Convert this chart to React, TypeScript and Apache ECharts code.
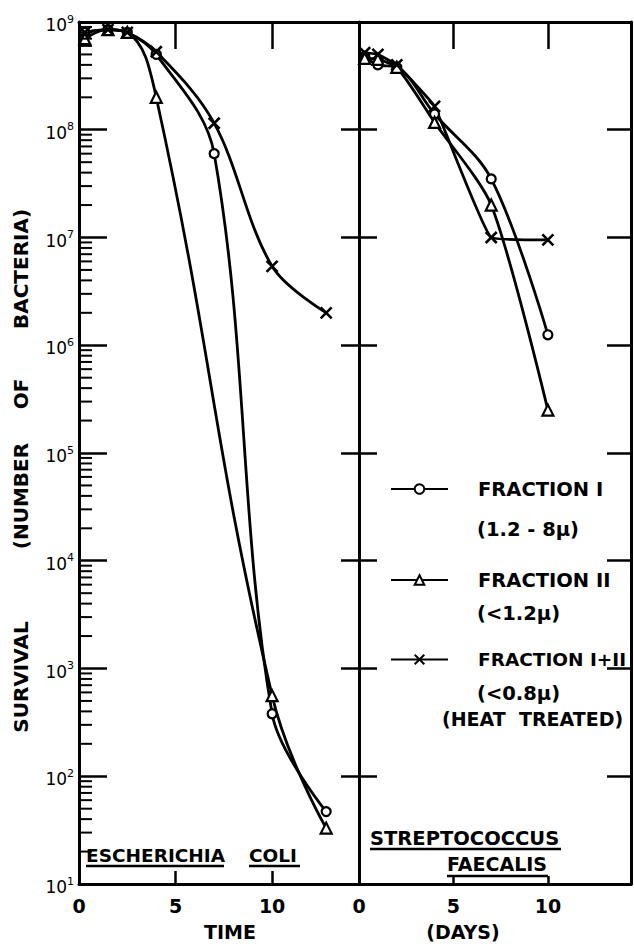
import React, { useEffect, useRef } from 'react';
import * as echarts from 'echarts';

// ---------- data ----------
const xTicks = [0, 5, 10];
const decadeExponents = [1, 2, 3, 4, 5, 6, 7, 8, 9];
const minorMultipliers = [2, 3, 4, 5, 6, 7, 8, 9];

// Escherichia coli (time, survival)
const ecoliFraction1: [number, number][] = [
  [0.3, 8e8], [1.5, 8.5e8], [2.5, 8e8], [4, 5e8], [7, 6e7], [10, 3.8e2], [12.8, 47],
];
const ecoliFraction2: [number, number][] = [
  [0.3, 7e8], [1.5, 8.5e8], [2.5, 8e8], [4, 2e8], [10, 5.6e2], [12.8, 33],
];
const ecoliFraction12: [number, number][] = [
  [0.3, 8e8], [1.5, 8.5e8], [2.5, 8e8], [4, 5.3e8], [7, 1.15e8], [10, 5.4e6], [12.8, 2e6],
];

// Streptococcus faecalis (days, survival)
const strepFraction1: [number, number][] = [
  [0.3, 4.8e8], [1, 4e8], [2, 3.8e8], [4, 1.4e8], [7, 3.5e7], [10, 1.25e6],
];
const strepFraction2: [number, number][] = [
  [0.3, 4.6e8], [1, 4.5e8], [2, 3.8e8], [4, 1.17e8], [7, 2e7], [10, 2.5e5],
];
const strepFraction12: [number, number][] = [
  [0.3, 5.2e8], [1, 5e8], [2, 4e8], [4, 1.65e8], [7, 1e7], [10, 9.5e6],
];

const seriesNames = ['FRACTION I', 'FRACTION II', 'FRACTION I+II'];
const legendSubLines = ['(1.2 - 8\u03bc)', '(<1.2\u03bc)', '(<0.8\u03bc)', '(HEAT  TREATED)'];
const yTitleWords = ['SURVIVAL', '(NUMBER', 'OF', 'BACTERIA)'];

const minorTickValues: number[] = [];
decadeExponents.slice(0, 8).forEach((e) => {
  minorMultipliers.forEach((m) => minorTickValues.push(m * Math.pow(10, e)));
});

const FONT = 'DejaVu Sans';
const X_SYMBOL = 'path://M0 0L10 10M10 0L0 10';

export default function App() {
  const ref = useRef<HTMLDivElement>(null);

  useEffect(() => {
    if (!ref.current) return;
    const chart = echarts.init(ref.current, null, { renderer: 'svg' });

    const lineCommon = {
      type: 'line' as const,
      smooth: 0.35,
      lineStyle: { color: '#000', width: 2.8 },
      itemStyle: { color: '#fff', borderColor: '#000', borderWidth: 2.2 },
      z: 3,
    };
    const styles: any[] = [
      { symbol: 'circle', symbolSize: 9 },
      { symbol: 'triangle', symbolSize: 11 },
      { symbol: X_SYMBOL, symbolSize: 11, itemStyle: { color: '#fff', borderColor: '#000', borderWidth: 2.6 } },
    ];

    const mkSeries = (idx: number, data: [number, number][], xi: number, yi: number, smooth = 0.35) => ({
      ...lineCommon,
      ...styles[idx],
      smooth,
      itemStyle: { ...lineCommon.itemStyle, ...(styles[idx].itemStyle || {}) },
      name: seriesNames[idx],
      xAxisIndex: xi,
      yAxisIndex: yi,
      data,
    });

    const axisLine = { show: true, lineStyle: { color: '#000', width: 3 } };
    const tickStyle = { color: '#000', width: 2.5 };
    const xLabel = {
      show: true,
      color: '#000',
      fontFamily: FONT,
      fontWeight: 'bold',
      fontSize: 19,
      margin: 12,
      formatter: (v: number) => (xTicks.includes(v) ? String(v) : ''),
    };
    const xBase = (grid: number, max: number) => ({
      type: 'value' as const,
      gridIndex: grid,
      min: 0,
      max,
      interval: 5,
      splitLine: { show: false },
      axisLine,
    });

    const yBase = (grid: number) => ({
      type: 'log' as const,
      logBase: 10,
      gridIndex: grid,
      min: 10,
      max: 1e9,
      splitLine: { show: false },
    });

    const legendItem = (name: string, top: number, fontSize: number) => ({
      data: [name],
      left: 390,
      top,
      padding: 0,
      itemWidth: 57,
      itemHeight: 12,
      selectedMode: false,
      textStyle: {
        fontFamily: FONT,
        fontWeight: 'bold',
        fontSize,
        color: '#000',
        padding: [10, 0, 0, 25],
      },
    });

    const txt = (text: string, x: number, y: number, extra: any = {}) => ({
      type: 'text',
      x,
      y,
      silent: true,
      style: {
        text,
        fontFamily: FONT,
        fontWeight: 'bold',
        fontSize: 20,
        fill: '#000',
        textAlign: 'left',
        textVerticalAlign: 'middle',
        ...extra,
      },
    });
    const hline = (x1: number, x2: number, y: number) => ({
      type: 'line',
      silent: true,
      shape: { x1, y1: y, x2, y2: y },
      style: { stroke: '#000', lineWidth: 2.5 },
    });

    const yTitleCenters = [677, 496, 394, 269];

    const option: any = {
      animation: false,
      backgroundColor: '#fff',
      textStyle: { fontFamily: FONT },
      grid: [
        { left: 79, top: 22, width: 280, height: 862 },
        { left: 359, top: 22, width: 272, height: 862 },
      ],
      xAxis: [
        {
          ...xBase(0, 14.5),
          position: 'bottom',
          axisTick: { show: true, inside: true, length: 13, lineStyle: tickStyle },
          axisLabel: xLabel,
        },
        {
          ...xBase(0, 14.5),
          position: 'top',
          axisTick: { show: true, inside: true, length: 27, lineStyle: tickStyle },
          axisLabel: { show: false },
        },
        {
          ...xBase(1, 14.4),
          position: 'bottom',
          axisTick: { show: true, inside: true, length: 8, lineStyle: tickStyle },
          axisLabel: xLabel,
        },
        {
          ...xBase(1, 14.4),
          position: 'top',
          axisTick: { show: true, inside: true, length: 27, lineStyle: tickStyle },
          axisLabel: { show: false },
        },
      ],
      yAxis: [
        {
          ...yBase(0),
          position: 'left',
          axisLine,
          axisTick: { show: true, inside: true, length: 28, lineStyle: tickStyle },
          axisLabel: {
            show: true,
            margin: 5,
            color: '#000',
            formatter: (v: number) => `{b|10}{s|${Math.round(Math.log10(v))}}`,
            rich: {
              b: { fontFamily: FONT, fontSize: 17, lineHeight: 17, padding: [6, 0, 0, 0], color: '#000' },
              s: { fontFamily: FONT, fontSize: 11, lineHeight: 11, verticalAlign: 'top', color: '#000' },
            },
          },
        },
        {
          ...yBase(1),
          position: 'left',
          axisLine,
          axisTick: { show: true, inside: false, length: 18, lineStyle: tickStyle },
          axisLabel: { show: false },
        },
        {
          ...yBase(1),
          position: 'left',
          axisLine: { show: false },
          axisTick: { show: true, inside: true, length: 18, lineStyle: tickStyle },
          axisLabel: { show: false },
        },
        {
          ...yBase(1),
          position: 'right',
          axisLine,
          axisTick: { show: true, inside: true, length: 24, lineStyle: tickStyle },
          axisLabel: { show: false },
        },
      ],
      legend: [
        legendItem(seriesNames[0], 479, 19.5),
        legendItem(seriesNames[1], 570, 19.5),
        legendItem(seriesNames[2], 650, 18.5),
      ],
      series: [
        {
          type: 'custom',
          name: 'minor ticks',
          xAxisIndex: 0,
          yAxisIndex: 0,
          silent: true,
          clip: false,
          z: 5,
          data: minorTickValues.map((v) => [0, v]),
          renderItem: (_p: any, api: any) => {
            const p = api.coord([0, api.value(1)]);
            return {
              type: 'line',
              shape: { x1: p[0], y1: p[1], x2: p[0] + 13, y2: p[1] },
              style: { stroke: '#000', lineWidth: 2 },
            };
          },
        },
        mkSeries(0, ecoliFraction1, 0, 0),
        mkSeries(1, ecoliFraction2, 0, 0, 0.45),
        mkSeries(2, ecoliFraction12, 0, 0),
        mkSeries(0, strepFraction1, 2, 1),
        mkSeries(1, strepFraction2, 2, 1, 0.25),
        mkSeries(2, strepFraction12, 2, 1, 0.1),
      ],
      graphic: [
        ...yTitleWords.map((w, i) =>
          txt(w, 21, yTitleCenters[i], { textAlign: 'center', fontSize: 20 })
        ).map((g: any) => ({ ...g, rotation: Math.PI / 2 })),
        txt('TIME', 230, 932, { textAlign: 'center', fontSize: 19 }),
        txt('(DAYS)', 463, 932, { textAlign: 'center', fontSize: 19 }),
        txt('ESCHERICHIA', 86, 855, { fontSize: 18.5 }),
        hline(86, 224, 866),
        txt('COLI', 249, 855, { fontSize: 18.5 }),
        hline(249, 300, 866),
        txt('STREPTOCOCCUS', 370, 838, { fontSize: 19.5 }),
        hline(370, 561, 849),
        txt('FAECALIS', 447, 864, { fontSize: 19 }),
        hline(447, 548, 876),
        txt(legendSubLines[0], 477, 529, { fontSize: 19.5 }),
        txt(legendSubLines[1], 477, 613, { fontSize: 19.5 }),
        txt(legendSubLines[2], 477, 693, { fontSize: 19.5 }),
        txt(legendSubLines[3], 442, 719, { fontSize: 19 }),
      ],
    };

    chart.setOption(option);
    return () => chart.dispose();
  }, []);

  return <div ref={ref} style={{ width: 634, height: 947, position: 'absolute', left: 0, top: 0 }} />;
}
